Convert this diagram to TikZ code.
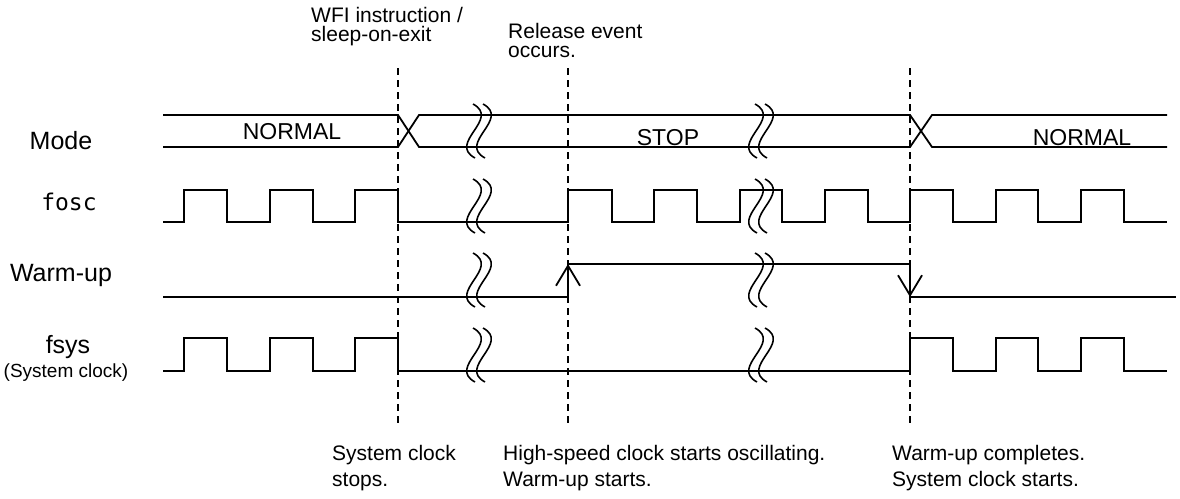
\documentclass[tikz,border=0pt]{standalone}
\usepackage{fontspec}
\setmainfont{Liberation Sans}
\newfontfamily\oscfont{DejaVu Sans Mono}
\usetikzlibrary{arrows.meta}
\newcommand{\brkmark}[2]{%
  \foreach \dx in {-5,5}{%
    \draw[brkline] ({#1+\dx-1},{#2-27}) .. controls +(28,15) and +(-28,-15) .. ({#1+\dx+1},{#2+27});%
  }%
}
\begin{document}
\begin{tikzpicture}[x=1pt,y=-1pt,
  sig/.style={line width=1.8pt, line join=miter, line cap=butt},
  brkline/.style={line width=1.6pt},
  dashline/.style={line width=1.5pt, dash pattern=on 7pt off 5pt},
  siglabel/.style={font=\fontsize{25}{28}\selectfont, inner sep=0pt, anchor=base},
  modetext/.style={font=\fontsize{23}{26}\selectfont, inner sep=0pt, anchor=base},
  note/.style={font=\fontsize{21}{24}\selectfont, inner sep=0pt, anchor=base west},
  tip/.style={-{Straight Barb[length=20pt,width=24pt]}}
]
\useasboundingbox (0,0) rectangle (1180,498);

% event coordinates
\coordinate (t1top) at (398,68);  \coordinate (t1bot) at (398,425);
\coordinate (t2top) at (568,68);  \coordinate (t2bot) at (568,425);
\coordinate (t3top) at (910,68);  \coordinate (t3bot) at (910,425);

\draw[dashline] (t1top) -- (t1bot);
\draw[dashline] (t2top) -- (t2bot);
\draw[dashline] (t3top) -- (t3bot);

% signal labels
\node[siglabel] (lmode) at (61,149) {Mode};
\node[font=\oscfont\fontsize{23}{26}\selectfont, inner sep=0pt, anchor=base] (losc) at (69,210) {fosc};
\node[siglabel] (lwarm) at (61,281) {Warm-up};
\node[siglabel] (lsys) at (68,353) {fsys};
\node[font=\fontsize{19}{22}\selectfont, inner sep=0pt, anchor=base] (lsys2) at (66,377) {(System clock)};

% Mode bus
\draw[sig] (163,115) -- (398,115) -- (419,147) -- (910,147) -- (932,115) -- (1167,115);
\draw[sig] (163,147) -- (398,147) -- (419,115) -- (910,115) -- (932,147) -- (1167,147);
\node[modetext] (mnormal1) at (292,139) {NORMAL};
\node[modetext] (mstop) at (668,145) {STOP};
\node[modetext] (mnormal2) at (1082,145) {NORMAL};

% fosc
\draw[sig] (163,222) -- (184,222) -- (184,190) -- (227,190) -- (227,222)
  -- (270,222) -- (270,190) -- (313,190) -- (313,222)
  -- (355,222) -- (355,190) -- (398,190) -- (398,222)
  -- (568,222) -- (568,190) -- (612,190) -- (612,222)
  -- (654,222) -- (654,190) -- (697,190) -- (697,222)
  -- (740,222) -- (740,190) -- (782,190) -- (782,222)
  -- (825,222) -- (825,190) -- (868,190) -- (868,222)
  -- (910,222) -- (910,190) -- (953,190) -- (953,222)
  -- (996,222) -- (996,190) -- (1038,190) -- (1038,222)
  -- (1081,222) -- (1081,190) -- (1124,190) -- (1124,222) -- (1167,222);

% Warm-up
\draw[sig] (163,297) -- (568,297) -- (568,264) -- (910,264) -- (910,297) -- (1176,297);
\draw[sig,tip] (568,292) -- (568,264);
\draw[sig,tip] (910,269) -- (910,297);

% fsys
\draw[sig] (163,371) -- (184,371) -- (184,338) -- (227,338) -- (227,371)
  -- (270,371) -- (270,338) -- (313,338) -- (313,371)
  -- (355,371) -- (355,338) -- (398,338) -- (398,371)
  -- (910,371) -- (910,338) -- (953,338) -- (953,371)
  -- (996,371) -- (996,338) -- (1038,338) -- (1038,371)
  -- (1081,371) -- (1081,338) -- (1124,338) -- (1124,371) -- (1167,371);

% break marks
\brkmark{479}{131}
\brkmark{479}{206}
\brkmark{479}{280}
\brkmark{479}{355}
\brkmark{761}{131}
\brkmark{761}{206}
\brkmark{761}{280}
\brkmark{761}{355}

% annotations
\node[note] (wfi1) at (311,22) {WFI instruction /};
\node[note] (wfi2) at (311,41) {sleep-on-exit};
\node[note] (rel1) at (508,38) {Release event};
\node[note] (rel2) at (508,57) {occurs.};
\node[note] (sc1) at (332,460) {System clock};
\node[note] (sc2) at (332,486) {stops.};
\node[note] (hs1) at (503,460) {High-speed clock starts oscillating.};
\node[note] (hs2) at (503,486) {Warm-up starts.};
\node[note] (wc1) at (892,460) {Warm-up completes.};
\node[note] (wc2) at (892,486) {System clock starts.};
\end{tikzpicture}
\end{document}
